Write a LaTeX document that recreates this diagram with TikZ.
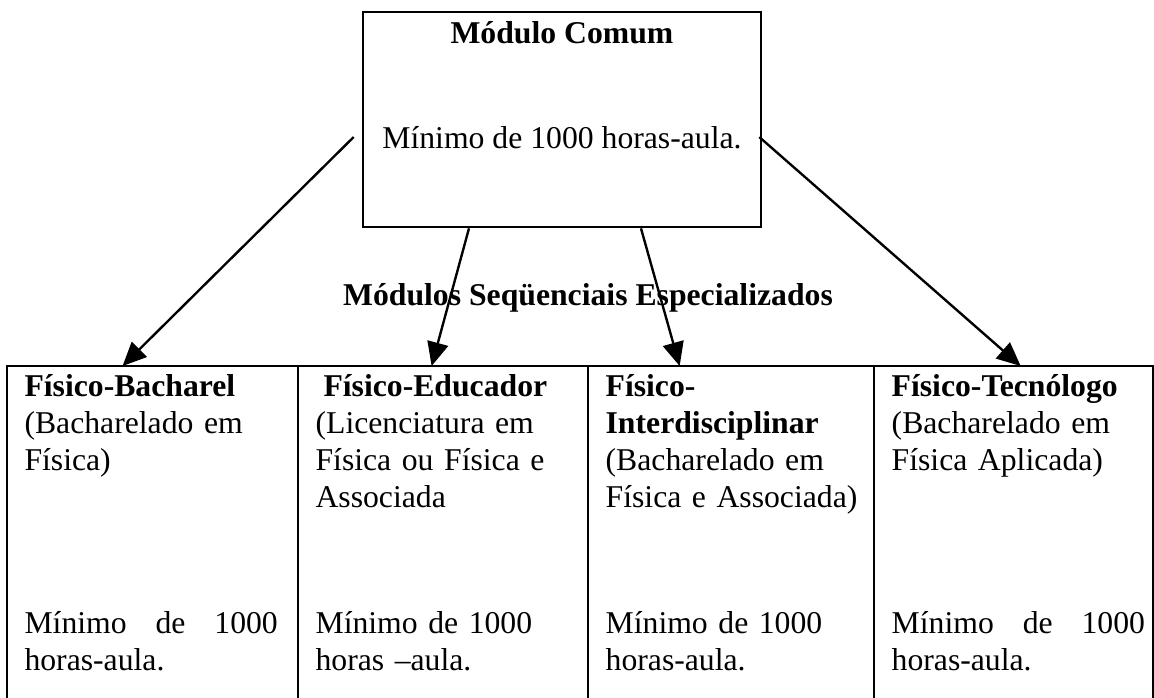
\documentclass[tikz,border=0pt]{standalone}
\usepackage{fontspec}
\setmainfont{Liberation Serif}
\usepackage{tikz}
\usetikzlibrary{arrows.meta}
\usetikzlibrary{calc}
\tikzset{
	seta/.style={line width=0.9pt, -{Triangle[length=9pt,width=8pt]}}
}
\tikzstyle{modbox}=[draw, line width=1pt, minimum width=5.295cm, minimum height=2.86cm, inner sep=0pt]
\tikzstyle{cell}=[anchor=north west, minimum height=4.416cm, inner sep=0pt]
\tikzstyle{celltxt}=[anchor=base west, text width=3.37cm, align=left, inner sep=0pt]
\newcommand{\justline}[1]{\hbox to 3.37cm{#1}}

\begin{document}
\begin{tikzpicture}[font=\fontsize{12}{14}\selectfont]
	\useasboundingbox (0,0) rectangle (15.352,-9.285);
	\node[modbox] (comum) at (7.476,-1.59) {};
	\node[anchor=base] (comumtit) at (7.476,-0.572) {\textbf{Módulo Comum}};
	\node[anchor=base] (comummin) at (7.476,-1.982) {Mínimo de 1000 horas-aula.};
	\node (seq) at (7.822,-3.964) {\textbf{Módulos Seqüenciais Especializados}};
	% colunas da tabela
	\node[cell, minimum width=3.858cm] (bach) at (0.093,-4.869) {};
	\node[cell, minimum width=3.845cm] (educ) at (bach.north east) {};
	\node[cell, minimum width=3.791cm] (inter) at (educ.north east) {};
	\node[cell, minimum width=3.698cm] (tecn) at (inter.north east) {};
	\draw[line width=0.8pt] (bach.south west) |- (tecn.north east) -- (tecn.south east);
	\foreach \c in {educ,inter,tecn}
		\draw[line width=0.8pt] (\c.north west) -- (\c.south west);
	% textos
	\node[celltxt] (bachtop) at ($(bach.north west)+(0.226,-0.412)$) {\textbf{Físico-Bacharel}\\(Bacharelado em\\Física)};
	\node[celltxt] (bachmin) at ($(bach.north west)+(0.226,-3.552)$) {\justline{Mínimo\hfill de\hfill 1000}\\horas-aula.};
	\node[celltxt] (eductop) at ($(educ.north west)+(0.226,-0.412)$) {\hspace*{0.25em}\textbf{Físico-Educador}\\(Licenciatura em\\Física ou Física e\\Associada};
	\node[celltxt] (educmin) at ($(educ.north west)+(0.226,-3.552)$) {Mínimo de 1000\\horas –aula.};
	\node[celltxt] (intertop) at ($(inter.north west)+(0.226,-0.412)$) {\textbf{Físico-}\\\textbf{Interdisciplinar}\\(Bacharelado em\\Física e Associada)};
	\node[celltxt] (intermin) at ($(inter.north west)+(0.226,-3.552)$) {Mínimo de 1000\\horas-aula.};
	\node[celltxt] (tecntop) at ($(tecn.north west)+(0.226,-0.412)$) {\textbf{Físico-Tecnólogo}\\(Bacharelado em\\Física Aplicada)};
	\node[celltxt] (tecnmin) at ($(tecn.north west)+(0.226,-3.552)$) {\justline{Mínimo\hfill de\hfill 1000}\\horas-aula.};
	% setas
	\draw[seta] ($(comum.west)+(-0.106,-0.233)$) -- ($(bach.north)+(-0.399,0)$);
	\draw[seta] ($(comum.south)+(-1.237,0)$) -- ($(educ.north)+(-0.153,0)$);
	\draw[seta] ($(comum.south)+(1.051,0)$) -- ($(inter.north)+(-0.685,0)$);
	\draw[seta] ($(comum.east)+(-0.04,-0.233)$) -- ($(tecn.north)+(0.093,0)$);
\end{tikzpicture}
\end{document}
